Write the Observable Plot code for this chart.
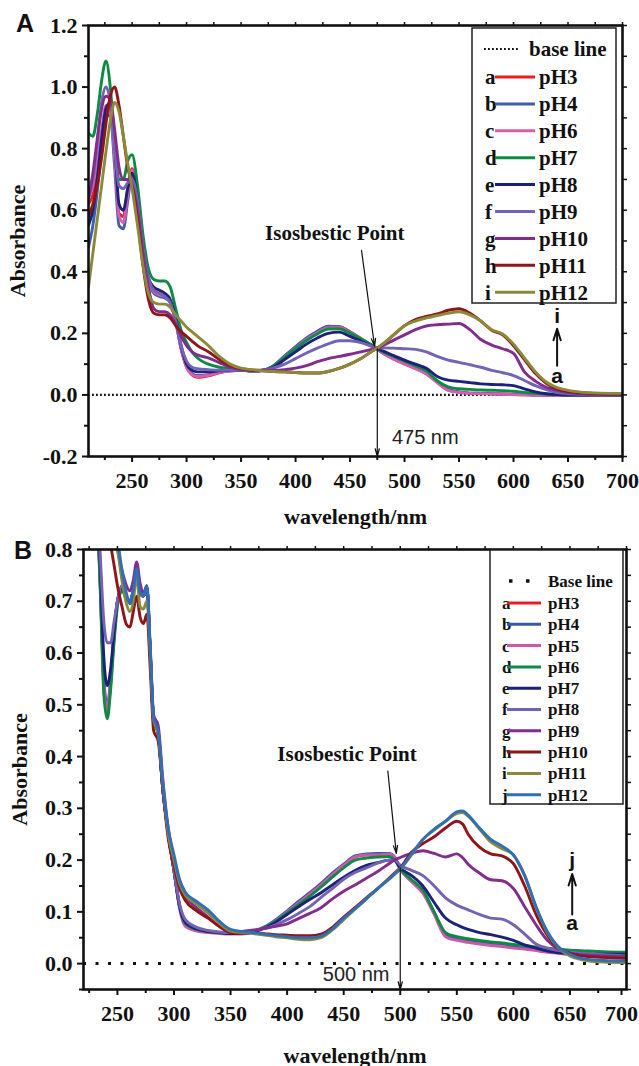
<!DOCTYPE html>
<html><head><meta charset="utf-8">
<script src="https://cdn.jsdelivr.net/npm/d3@7"></script>
<script src="https://cdn.jsdelivr.net/npm/@observablehq/plot@0.6"></script>
<style>
body{margin:0;background:#fff;width:639px;height:1066px;position:relative;overflow:hidden;font-family:'Liberation Serif',serif}
.panel{position:absolute;left:0;width:639px}
.tag{position:absolute;font:bold 25px 'Liberation Sans',Arial,sans-serif;color:#111}
</style></head>
<body>
<div id="A" class="panel" style="top:0"></div>
<div id="B" class="panel" style="top:530px"></div>
<div class="tag" style="left:16px;top:9px">A</div>
<div class="tag" style="left:14px;top:536px">B</div>
<script>
// ---------------- Panel A data ----------------
const wlA = [210,214,218,222,226,230,234,238,242,246,250,255,260,265,270,275,280,285,290,295,300,305,310,320,330,340,350,360,370,380,390,400,410,420,430,440,450,460,470,475,480,490,500,510,520,530,540,550,560,570,580,590,600,610,620,630,640,650,660,680,700];
const lettersA = ["a","b","c","d","e","f","g","h","i"];
const pHLabelsA = ["pH3","pH4","pH6","pH7","pH8","pH9","pH10","pH11","pH12"];
const colorsA = ["#ec1c24","#3f5fae","#d35fae","#0f8a45","#1c2277","#7462b5","#822c8e","#8e1518","#8a8a3a"];
const absA_pH3 = [.62,.65,.72,.83,.93,.93,.78,.59,.58,.67,.735,.63,.46,.37,.335,.325,.32,.30,.24,.15,.09,.065,.057,.062,.072,.078,.08,.078,.08,.095,.125,.155,.183,.205,.222,.222,.205,.183,.16,.148,.136,.117,.101,.086,.069,.042,.016,.009,.006,.005,.004,.003,.002,.001,0,0,0,0,0,0,0];
const absA_pH4 = [.48,.55,.66,.80,.90,.91,.74,.55,.54,.63,.72,.62,.46,.37,.33,.32,.315,.30,.24,.15,.095,.07,.063,.066,.074,.078,.08,.078,.08,.096,.127,.157,.185,.207,.223,.222,.204,.182,.16,.149,.137,.118,.102,.087,.07,.044,.018,.01,.006,.005,.004,.003,.002,.001,0,0,0,0,0,0,0];
const absA_pH6 = [.64,.68,.76,.86,.94,.92,.77,.58,.56,.65,.73,.62,.46,.37,.335,.325,.32,.30,.24,.15,.09,.066,.06,.064,.073,.078,.08,.078,.08,.094,.123,.152,.18,.202,.218,.219,.203,.182,.16,.149,.136,.116,.1,.085,.068,.04,.015,.008,.005,.004,.003,.002,.001,0,0,0,0,0,0,0,0];
const absA_pH7 = [.85,.84,.91,1.02,1.085,1.0,.82,.70,.70,.76,.78,.68,.52,.41,.375,.37,.37,.35,.28,.21,.17,.14,.12,.10,.09,.085,.08,.078,.08,.094,.122,.15,.177,.198,.214,.215,.2,.182,.162,.15,.14,.125,.11,.095,.078,.046,.026,.02,.018,.016,.015,.014,.012,.008,.005,.003,.001,0,0,0,0];
const absA_pH8 = [.55,.60,.70,.83,.93,.95,.82,.62,.60,.67,.72,.63,.47,.38,.35,.34,.33,.31,.25,.16,.10,.08,.075,.075,.078,.08,.08,.078,.079,.09,.115,.14,.165,.185,.2,.204,.19,.175,.158,.15,.143,.128,.113,.1,.087,.06,.048,.044,.04,.036,.034,.033,.03,.02,.01,.004,.001,0,0,0,0];
const absA_pH9 = [.64,.70,.82,.95,1.0,.95,.80,.68,.67,.69,.70,.63,.48,.38,.34,.33,.32,.30,.24,.16,.11,.09,.085,.082,.08,.08,.08,.078,.08,.088,.1,.118,.136,.152,.166,.176,.176,.17,.158,.153,.153,.152,.15,.148,.14,.125,.113,.106,.098,.09,.08,.072,.063,.047,.03,.017,.008,.004,.002,0,0];
const absA_pH10 = [.64,.72,.83,.93,.97,.96,.86,.74,.70,.70,.68,.60,.46,.35,.28,.27,.27,.26,.23,.19,.16,.14,.13,.12,.105,.09,.083,.08,.08,.08,.082,.087,.095,.108,.118,.125,.132,.14,.148,.152,.16,.178,.195,.212,.224,.228,.23,.232,.212,.18,.162,.15,.135,.075,.045,.025,.015,.008,.004,.002,.001];
const absA_pH11 = [.58,.62,.68,.77,.88,.97,1.0,.94,.84,.74,.68,.57,.42,.31,.265,.26,.26,.25,.225,.205,.19,.175,.16,.14,.115,.095,.085,.08,.078,.076,.075,.073,.071,.071,.076,.086,.1,.118,.142,.152,.165,.195,.225,.245,.255,.263,.275,.28,.265,.24,.21,.195,.16,.115,.07,.038,.02,.012,.008,.004,.003];
const absA_pH12 = [.35,.46,.57,.68,.79,.89,.95,.92,.84,.75,.67,.55,.42,.33,.30,.295,.295,.285,.26,.24,.22,.205,.19,.16,.125,.1,.087,.082,.078,.076,.075,.073,.071,.071,.076,.086,.1,.118,.142,.152,.165,.195,.225,.24,.25,.258,.265,.27,.26,.24,.212,.198,.165,.12,.075,.042,.024,.015,.01,.006,.005];
const absA = [absA_pH3,absA_pH4,absA_pH6,absA_pH7,absA_pH8,absA_pH9,absA_pH10,absA_pH11,absA_pH12];

// ---------------- Panel B data ----------------
const wlB = [220,225,230,235,238,241,244,247,250,254,258,261,264,267,270,273,276,279,282,286,290,295,300,305,310,320,330,340,350,360,370,380,390,400,410,420,430,440,450,460,470,480,490,495,500,510,520,530,540,550,555,560,570,580,590,600,610,620,630,640,650,660,680,700];
const lettersB = ["a","b","c","d","e","f","g","h","i","j"];
const pHLabelsB = ["pH3","pH4","pH5","pH6","pH7","pH8","pH9","pH10","pH11","pH12"];
const colorsB = ["#ec1c24","#3a58a8","#cc5aa8","#0f8a45","#1c2277","#7462b5","#822c8e","#8e1518","#8a8a3a","#2f6fb5"];
const absB_pH3 = [1.3,1.2,1.0,.72,.53,.485,.54,.63,.70,.725,.705,.70,.72,.755,.715,.71,.725,.6,.47,.445,.34,.25,.18,.11,.078,.066,.062,.06,.058,.058,.062,.07,.083,.1,.117,.134,.152,.172,.19,.206,.21,.211,.212,.205,.183,.16,.14,.098,.055,.047,.045,.043,.04,.037,.035,.032,.03,.027,.025,.022,.02,.018,.015,.013];
const absB_pH4 = [1.3,1.2,1.0,.73,.55,.50,.55,.64,.70,.725,.705,.70,.72,.755,.715,.71,.725,.6,.47,.445,.34,.25,.18,.11,.078,.066,.062,.06,.058,.058,.062,.071,.085,.102,.12,.137,.155,.175,.192,.208,.212,.213,.213,.206,.183,.16,.14,.098,.055,.047,.045,.043,.04,.037,.035,.032,.03,.027,.025,.022,.02,.019,.016,.014];
const absB_pH5 = [1.3,1.2,1.0,.72,.54,.49,.545,.635,.70,.725,.705,.70,.72,.755,.715,.71,.725,.6,.47,.445,.34,.25,.18,.105,.072,.063,.06,.058,.057,.057,.061,.07,.083,.1,.117,.134,.152,.172,.19,.206,.21,.21,.212,.205,.183,.158,.136,.095,.052,.045,.043,.041,.038,.035,.033,.03,.028,.025,.022,.02,.017,.015,.012,.01];
const absB_pH6 = [1.3,1.2,1.0,.71,.52,.473,.53,.62,.69,.72,.705,.70,.72,.75,.715,.71,.725,.6,.47,.445,.34,.25,.18,.11,.078,.066,.062,.06,.058,.058,.062,.07,.082,.098,.114,.13,.148,.167,.185,.2,.204,.206,.207,.2,.183,.162,.142,.1,.06,.052,.05,.048,.045,.042,.04,.037,.035,.032,.03,.028,.026,.025,.023,.022];
const absB_pH7 = [1.3,1.2,1.0,.76,.59,.537,.57,.64,.70,.725,.705,.70,.72,.755,.715,.71,.725,.6,.47,.445,.34,.25,.18,.11,.08,.067,.062,.06,.058,.058,.062,.068,.08,.095,.11,.124,.137,.152,.167,.18,.19,.195,.2,.2,.185,.17,.15,.118,.088,.075,.07,.066,.06,.056,.051,.045,.036,.03,.024,.021,.02,.019,.018,.018];
const absB_pH8 = [1.25,1.15,.98,.78,.66,.62,.62,.66,.70,.73,.71,.70,.72,.755,.715,.71,.725,.6,.47,.445,.34,.25,.18,.115,.085,.07,.064,.061,.06,.062,.065,.068,.075,.085,.097,.11,.128,.145,.163,.176,.185,.194,.2,.2,.19,.18,.17,.15,.127,.113,.108,.104,.095,.088,.086,.075,.057,.038,.03,.025,.022,.02,.017,.015];
const absB_pH9 = [1.3,1.25,1.15,1.05,.98,.93,.88,.84,.80,.76,.73,.72,.74,.776,.735,.715,.73,.61,.48,.46,.36,.26,.2,.155,.13,.108,.09,.072,.062,.062,.064,.068,.072,.077,.087,.097,.108,.125,.14,.152,.165,.178,.193,.2,.205,.213,.218,.213,.206,.212,.205,.192,.175,.162,.16,.145,.11,.075,.045,.028,.02,.017,.015,.014];
const absB_pH10 = [1.3,1.2,1.1,.98,.92,.86,.81,.77,.73,.69,.655,.65,.68,.71,.67,.657,.675,.57,.45,.43,.34,.24,.19,.145,.122,.102,.088,.072,.06,.058,.06,.058,.056,.055,.054,.054,.057,.07,.09,.108,.127,.145,.165,.175,.185,.215,.232,.245,.262,.275,.27,.25,.225,.212,.208,.193,.15,.095,.055,.03,.02,.015,.012,.01];
const absB_pH11 = [1.3,1.2,1.1,1.0,.94,.9,.86,.83,.80,.74,.695,.68,.70,.75,.69,.685,.70,.6,.47,.445,.35,.25,.2,.155,.132,.115,.098,.078,.063,.06,.058,.055,.052,.05,.047,.046,.05,.065,.085,.105,.125,.145,.163,.173,.183,.21,.24,.258,.275,.29,.292,.285,.26,.235,.222,.21,.17,.11,.06,.03,.015,.008,.003,.002];
const absB_pH12 = [1.3,1.22,1.12,1.02,.96,.92,.88,.85,.82,.76,.715,.695,.72,.763,.715,.713,.73,.61,.475,.45,.35,.26,.21,.162,.138,.12,.104,.082,.066,.062,.06,.057,.054,.052,.05,.05,.053,.067,.088,.106,.125,.145,.163,.173,.183,.212,.24,.26,.275,.293,.295,.287,.262,.24,.227,.21,.17,.11,.062,.032,.018,.01,.006,.005];
const absB = [absB_pH3,absB_pH4,absB_pH5,absB_pH6,absB_pH7,absB_pH8,absB_pH9,absB_pH10,absB_pH11,absB_pH12];

// ---------------- ticks ----------------
const xMajor = [250,300,350,400,450,500,550,600,650,700];
const xMinor = [225,275,325,375,425,475,525,575,625,675];
const yMajorA = [-0.2,0,0.2,0.4,0.6,0.8,1.0,1.2];
const yMinorA = [-0.1,0.1,0.3,0.5,0.7,0.9,1.1];
const yMajorB = [0,0.1,0.2,0.3,0.4,0.5,0.6,0.7,0.8];
const yMinorB = [-0.05,0.05,0.15,0.25,0.35,0.45,0.55,0.65,0.75];
const baseline = [0];

// ---------------- annotations ----------------
const isoLabelA = [{wl: 436, abs: 0.525, text: "Isosbestic Point"}];
const isoPointerA = [{wl1: 460.5, abs1: 0.47, wl2: 472.5, abs2: 0.158}];
const isoDropA = [{wl1: 475, abs1: 0.15, wl2: 475, abs2: -0.2}];
const nmLabelA = [{wl: 519, abs: -0.14, text: "475 nm"}];
const trendArrowA = [{wl1: 640, abs1: 0.095, wl2: 640, abs2: 0.215}];
const trendLabelsA = [{wl: 640, abs: 0.255, text: "i"}, {wl: 640, abs: 0.062, text: "a"}];

const isoLabelB = [{wl: 453, abs: 0.405, text: "Isosbestic Point"}];
const isoPointerB = [{wl1: 489, abs1: 0.372, wl2: 496.5, abs2: 0.213}];
const isoDropB = [{wl1: 500, abs1: 0.185, wl2: 500, abs2: -0.05}];
const nmLabelB = [{wl: 461, abs: -0.022, text: "500 nm"}];
const trendArrowB = [{wl1: 652, abs1: 0.095, wl2: 652, abs2: 0.173}];
const trendLabelsB = [{wl: 652, abs: 0.2, text: "j"}, {wl: 652, abs: 0.078, text: "a"}];

function tidy(wl, letters, colors, series) {
  return letters.flatMap((k, i) => wl.map((w, j) => ({wl: w, abs: series[i][j], key: k, color: colors[i]})));
}

const serif = "'Liberation Serif','Times New Roman',serif";
const sans = "'Liberation Sans',Arial,sans-serif";

function panel(o) {
  const lastTick = [xMajor[xMajor.length - 1]];
  const otherTicks = xMajor.slice(0, -1);
  return Plot.plot({
    width: 639, height: o.height,
    marginLeft: o.ml, marginRight: o.mr, marginTop: o.mt, marginBottom: o.mb,
    x: {domain: o.xDomain},
    y: {domain: o.yDomain},
    color: {type: "identity"},
    style: {fontFamily: serif, fontWeight: "bold", fontSize: "22px", color: "#111", background: "transparent", overflow: "visible"},
    marks: [
      Plot.ruleY(baseline, {stroke: "#111", strokeWidth: o.baseW, strokeDasharray: o.baseDash}),
      Plot.line(o.rows, {x: "wl", y: "abs", z: "key", stroke: "color", strokeWidth: 2.9, curve: "monotone-x", clip: true}),
      Plot.axisX({anchor: "bottom", ticks: otherTicks, tickSize: 6, tickPadding: 10, tickFormat: d => String(d), label: "wavelength/nm", labelAnchor: "center", labelOffset: o.xLabOff, labelArrow: "none", strokeWidth: 2}),
      Plot.axisX({anchor: "bottom", ticks: lastTick, tickSize: 6, tickPadding: 10, tickFormat: d => String(d), dx: o.lastDx, label: null, strokeWidth: 2}),
      Plot.axisX({anchor: "bottom", ticks: xMinor, tickSize: 4, tickFormat: () => "", label: null, strokeWidth: 2}),
      Plot.axisX({anchor: "top", ticks: xMajor.concat(xMinor), tickSize: 4, tickFormat: () => "", label: null, strokeWidth: 1.5}),
      Plot.axisY({anchor: "left", ticks: o.yMajor, tickSize: 6, tickPadding: 5, tickFormat: d => d.toFixed(1), label: "Absorbance", labelAnchor: "center", labelOffset: o.yLabOff, labelArrow: "none", strokeWidth: 2}),
      Plot.axisY({anchor: "left", ticks: o.yMinor, tickSize: 4, tickFormat: () => "", label: null, strokeWidth: 2}),
      Plot.axisY({anchor: "right", ticks: o.yMajor.concat(o.yMinor), tickSize: 4, tickFormat: () => "", label: null, strokeWidth: 1.5}),
      Plot.frame({stroke: "#111", strokeWidth: 2.6}),
      Plot.text(o.isoLabel, {x: "wl", y: "abs", text: "text", fontSize: 21, fontFamily: serif, fontWeight: "bold", fill: "#111"}),
      Plot.arrow(o.isoPointer, {x1: "wl1", y1: "abs1", x2: "wl2", y2: "abs2", stroke: "#111", strokeWidth: 1.2, headLength: 10, headAngle: 30}),
      Plot.arrow(o.isoDrop, {x1: "wl1", y1: "abs1", x2: "wl2", y2: "abs2", stroke: "#111", strokeWidth: 1.2, headLength: 10, headAngle: 30}),
      Plot.text(o.nmLabel, {x: "wl", y: "abs", text: "text", fontSize: 20, fontFamily: sans, fontWeight: "normal", fill: "#222"}),
      Plot.arrow(o.trendArrow, {x1: "wl1", y1: "abs1", x2: "wl2", y2: "abs2", stroke: "#111", strokeWidth: 2, headLength: 9, headAngle: 35}),
      Plot.text(o.trendLabels, {x: "wl", y: "abs", text: "text", fontSize: 21, fontFamily: sans, fontWeight: "bold", fill: "#111"})
    ]
  });
}

const chartA = panel({
  rows: tidy(wlA, lettersA, colorsA, absA), height: 530, ml: 88, mr: 17, mt: 25, mb: 74,
  xDomain: [210, 700], yDomain: [-0.2, 1.2], yMajor: yMajorA, yMinor: yMinorA,
  baseW: 2.2, baseDash: "1.8,2.2", xLabOff: 67, yLabOff: 79, lastDx: 0,
  isoLabel: isoLabelA, isoPointer: isoPointerA, isoDrop: isoDropA, nmLabel: nmLabelA,
  trendArrow: trendArrowA, trendLabels: trendLabelsA
});
const chartB = panel({
  rows: tidy(wlB, lettersB, colorsB, absB), height: 536, ml: 83, mr: 13, mt: 19, mb: 77,
  xDomain: [220, 700], yDomain: [-0.05, 0.8], yMajor: yMajorB, yMinor: yMinorB,
  baseW: 3, baseDash: "3,9.5", xLabOff: 73, yLabOff: 72, lastDx: -5,
  isoLabel: isoLabelB, isoPointer: isoPointerB, isoDrop: isoDropB, nmLabel: nmLabelB,
  trendArrow: trendArrowB, trendLabels: trendLabelsB
});
document.getElementById("A").appendChild(chartA);
document.getElementById("B").appendChild(chartB);

// ---------------- legends (overlay) ----------------
function legend(hostId, L) {
  const svg = d3.select("#" + hostId).append("svg")
    .attr("width", 639).attr("height", 540)
    .style("position", "absolute").style("left", 0).style("top", 0)
    .style("font-family", serif).style("font-weight", "bold").style("font-size", L.fs + "px");
  svg.append("rect").attr("x", L.x).attr("y", L.y).attr("width", L.w).attr("height", L.h)
    .attr("fill", "white").attr("stroke", "#222").attr("stroke-width", 1.5);
  svg.append("line").attr("x1", L.bx1).attr("x2", L.bx2).attr("y1", L.by).attr("y2", L.by)
    .attr("stroke", "#111").attr("stroke-width", L.bw).attr("stroke-dasharray", L.bdash);
  svg.append("text").attr("x", L.blx).attr("y", L.by).attr("dy", "0.35em").attr("fill", "#111").text(L.baseText);
  L.letters.forEach((k, i) => {
    const y = L.r0 + i * L.step;
    svg.append("text").attr("x", L.lx).attr("y", y).attr("dy", "0.35em").attr("fill", "#111").text(k);
    svg.append("line").attr("x1", L.sx1).attr("x2", L.sx2).attr("y1", y).attr("y2", y)
      .attr("stroke", L.colors[i]).attr("stroke-width", 3);
    svg.append("text").attr("x", L.tx).attr("y", y).attr("dy", "0.35em").attr("fill", "#111").text(L.labels[i]);
  });
}
legend("A", {x: 472, y: 28, w: 144, h: 275, fs: 21, baseText: "base line", bx1: 484, bx2: 519, by: 49, bw: 2.2, bdash: "1.8,2.2", blx: 529,
  letters: lettersA, labels: pHLabelsA, colors: colorsA, r0: 77, step: 26.9, lx: 485, sx1: 495, sx2: 535, tx: 539});
legend("B", {x: 490, y: 20, w: 133, h: 254, fs: 17, baseText: "Base line", bx1: 509, bx2: 531, by: 51, bw: 3.5, bdash: "3.5,13.5", blx: 548,
  letters: lettersB, labels: pHLabelsB, colors: colorsB, r0: 73, step: 21.3, lx: 502, sx1: 507, sx2: 541, tx: 548});
</script>
</body></html>
